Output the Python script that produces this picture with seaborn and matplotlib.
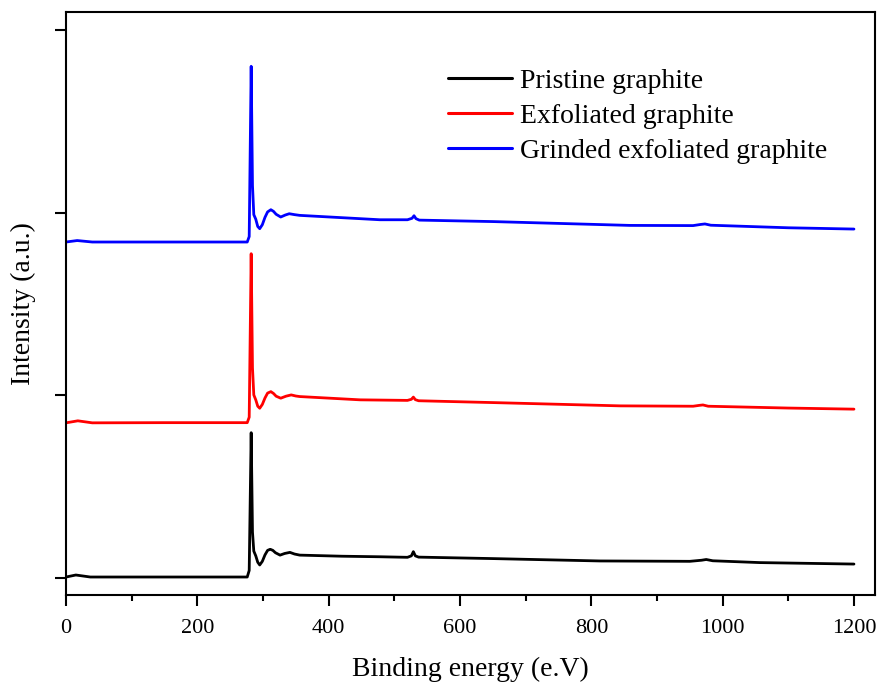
import matplotlib
matplotlib.use("Agg")
import matplotlib.pyplot as plt
from matplotlib.ticker import MultipleLocator, NullFormatter
import pandas as pd
import seaborn as sns

# XPS survey spectra (binding energy in eV, intensity in arbitrary units, stacked)
pristine_energy = [0, 15, 37, 150, 276, 279, 282, 284, 286, 289, 292, 295, 299,
                   303, 307, 311, 315, 319, 326, 333, 341, 348, 356, 420, 478,
                   520, 526, 529, 532, 537, 650, 813, 950, 968, 975, 985, 1057,
                   1200]
pristine_intensity = [0.004, 0.015, 0.004, 0.004, 0.004, 0.04, 0.795, 0.25,
                      0.146, 0.120, 0.085, 0.070, 0.090, 0.125, 0.150, 0.156,
                      0.150, 0.137, 0.124, 0.133, 0.139, 0.130, 0.124, 0.118,
                      0.115, 0.112, 0.120, 0.143, 0.120, 0.113, 0.105, 0.092,
                      0.090, 0.096, 0.100, 0.093, 0.083, 0.075]

exfoliated_energy = [0, 18, 40, 150, 276, 279, 282, 284, 286, 289, 292, 295,
                     299, 303, 307, 312, 316, 320, 327, 335, 343, 350, 356, 448,
                     520, 526, 529, 532, 537, 650, 844, 955, 965, 970, 978, 1100,
                     1200]
exfoliated_intensity = [0.849, 0.860, 0.849, 0.850, 0.850, 0.88, 1.776, 1.15,
                        1.002, 0.975, 0.940, 0.929, 0.950, 0.985, 1.012, 1.020,
                        1.010, 0.995, 0.984, 0.995, 1.002, 0.996, 0.993, 0.975,
                        0.972, 0.978, 0.990, 0.976, 0.970, 0.960, 0.942, 0.940,
                        0.945, 0.947, 0.940, 0.930, 0.924]

grinded_energy = [0, 17, 40, 150, 276, 279, 282, 284, 286, 289, 292, 295, 299,
                  303, 307, 312, 316, 320, 327, 334, 340, 348, 356, 478, 520,
                  527, 530, 533, 538, 650, 859, 955, 966, 973, 982, 1100, 1200]
grinded_intensity = [1.840, 1.848, 1.840, 1.840, 1.840, 1.87, 2.803, 2.15,
                     1.990, 1.965, 1.925, 1.913, 1.935, 1.975, 2.005, 2.017,
                     2.008, 1.992, 1.977, 1.988, 1.995, 1.990, 1.986, 1.962,
                     1.962, 1.970, 1.984, 1.968, 1.960, 1.952, 1.931, 1.930,
                     1.936, 1.939, 1.932, 1.918, 1.911]

series_names = ["Pristine graphite", "Exfoliated graphite",
                "Grinded exfoliated graphite"]
series_colors = ["#000000", "#ff0000", "#0000ff"]

frames = []
for name, e, i in zip(series_names,
                      [pristine_energy, exfoliated_energy, grinded_energy],
                      [pristine_intensity, exfoliated_intensity, grinded_intensity]):
    frames.append(pd.DataFrame({"energy": e, "intensity": i, "sample": name}))
data = pd.concat(frames, ignore_index=True)

sns.set_theme(style="ticks")
plt.rcParams["font.family"] = ["Liberation Serif", "DejaVu Serif"]
plt.rcParams["text.color"] = "black"
plt.rcParams["axes.labelcolor"] = "black"

fig = plt.figure(figsize=(8.8, 6.84), dpi=100)
ax = fig.add_axes([0.075, 0.130, 0.9193, 0.8523])

sns.lineplot(data=data, x="energy", y="intensity", hue="sample",
             hue_order=series_names, palette=series_colors,
             estimator=None, sort=False, linewidth=2.0, ax=ax, legend=False)

ax.set_xlim(0, 1232)
ax.set_ylim(-0.095, 3.10)
ax.xaxis.set_major_locator(MultipleLocator(200))
ax.xaxis.set_minor_locator(MultipleLocator(100))
ax.set_yticks([0, 1, 2, 3])
ax.yaxis.set_major_formatter(NullFormatter())

for side in ["left", "right", "top", "bottom"]:
    ax.spines[side].set_visible(True)
    ax.spines[side].set_linewidth(1.5)
    ax.spines[side].set_color("black")

ax.tick_params(axis="both", which="major", direction="out", length=8,
               width=1.5, color="black", labelsize=16, labelcolor="black")
ax.tick_params(axis="x", which="major", pad=9)
ax.tick_params(axis="y", which="major", pad=3.5)
ax.tick_params(axis="x", which="minor", direction="out", length=4.5,
               width=1.5, color="black")
ax.tick_params(top=False, right=False)

ax.set_xlabel("Binding energy (e.V)", fontsize=20, labelpad=14)
ax.set_ylabel("Intensity (a.u.)", fontsize=20, labelpad=10)

handles = [plt.Line2D([], [], color=c, linewidth=2.2) for c in series_colors]
ax.legend(handles, series_names, loc="upper left", bbox_to_anchor=(0.472, 0.903),
          frameon=False, fontsize=20, handlelength=2.3, handletextpad=0.3,
          labelspacing=0.34, borderpad=0, borderaxespad=0)

fig.savefig("out.png", dpi=100, facecolor="white")
